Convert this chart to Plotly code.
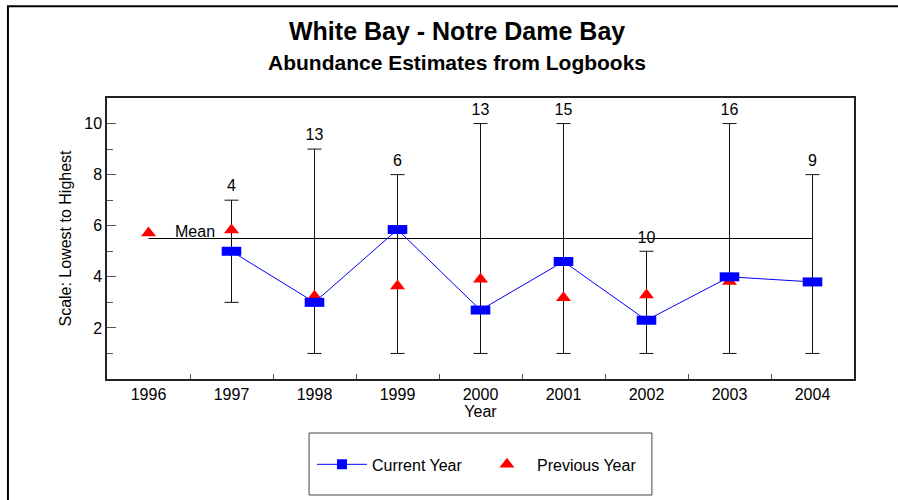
import plotly.graph_objects as go

# Survey years and estimates
years = [1996, 1997, 1998, 1999, 2000, 2001, 2002, 2003, 2004]
cur_years = [1997, 1998, 1999, 2000, 2001, 2002, 2003, 2004]
current = [5.0, 3.0, 5.85, 2.7, 4.6, 2.3, 4.0, 3.8]
prev_years = [1996, 1997, 1998, 1999, 2000, 2001, 2002, 2003]
previous = [5.72, 5.83, 3.24, 3.64, 3.9, 3.18, 3.29, 3.82]
# Range of individual logbook scores and number of logbooks per year
low = [3, 1, 1, 1, 1, 1, 1, 1]
high = [7, 9, 8, 10, 10, 5, 10, 8]
n_books = [4, 13, 6, 13, 15, 10, 16, 9]
mean_value = 5.5

FONT = "Arial, Liberation Sans, sans-serif"
BLUE = "#0000ff"
RED = "#ff0000"

fig = go.Figure()

# long-term mean
fig.add_trace(go.Scatter(
    x=[years[0], years[-1]], y=[mean_value, mean_value],
    mode="lines", line=dict(color="black", width=1),
    showlegend=False, hoverinfo="skip",
))

# lowest-to-highest range with the logbook count above it
# (transparent markers only serve to lift the labels off the caps)
fig.add_trace(go.Scatter(
    x=cur_years, y=high, mode="markers+text",
    text=[str(v) for v in n_books], textposition="top center",
    marker=dict(size=6, color="rgba(0,0,0,0)"),
    textfont=dict(family=FONT, size=16, color="black"),
    error_y=dict(type="data", symmetric=False,
                 array=[0] * len(high),
                 arrayminus=[h - l for h, l in zip(high, low)],
                 color="#111111", thickness=1, width=7),
    showlegend=False, hoverinfo="skip",
))

fig.add_trace(go.Scatter(
    x=prev_years, y=previous, mode="markers", name="Previous Year",
    marker=dict(symbol="triangle-up", size=13, color=RED, line=dict(width=0)),
))

# current-year estimates drawn as flat rectangles
fig.add_trace(go.Scatter(
    x=cur_years, y=current, mode="lines+markers", name="Current Year",
    line=dict(color=BLUE, width=1),
    marker=dict(symbol="line-ew", size=14, line=dict(color=BLUE, width=9)),
    showlegend=False,
))
# legend entry for the current-year series
fig.add_trace(go.Scatter(
    x=[None], y=[None], mode="lines+markers", name="Current Year",
    line=dict(color=BLUE, width=1),
    marker=dict(symbol="square", size=10, color=BLUE),
))

fig.add_annotation(
    x=1996.29, y=mean_value, xref="x", yref="y", text="Mean",
    showarrow=False, xanchor="left", yanchor="middle", yshift=7,
    font=dict(family=FONT, size=16, color="black"),
)

# two-line heading
fig.add_annotation(
    x=0.4685, y=1.2384, xref="paper", yref="paper",
    text="<b>White Bay - Notre Dame Bay</b>", showarrow=False,
    xanchor="center", yanchor="middle",
    font=dict(family=FONT, size=25, color="black"),
)
fig.add_annotation(
    x=0.4685, y=1.1246, xref="paper", yref="paper",
    text="<b>Abundance Estimates from Logbooks</b>", showarrow=False,
    xanchor="center", yanchor="middle",
    font=dict(family=FONT, size=21, color="black"),
)

# outer frame (left and top edges) and legend box
fig.add_shape(type="rect", xref="paper", yref="paper",
              x0=-0.1326, x1=1.3, y0=-0.6, y1=1.3267,
              line=dict(color="black", width=2))
fig.add_shape(type="rect", xref="paper", yref="paper",
              x0=0.2705, x1=0.7295, y0=-0.4128, y1=-0.1922,
              line=dict(color="#444444", width=1))

fig.update_layout(
    width=898, height=500,
    margin=dict(l=107, r=44, t=98, b=121),
    paper_bgcolor="white", plot_bgcolor="white",
    font=dict(family=FONT, size=16, color="black"),
    showlegend=True,
    legend=dict(
        orientation="h", x=0.2744, y=-0.304, xanchor="left", yanchor="middle",
        bgcolor="rgba(0,0,0,0)", borderwidth=0, itemwidth=50,
        entrywidth=100,
        font=dict(family=FONT, size=16, color="black"),
        traceorder="reversed",
    ),
    xaxis=dict(
        range=[1995.5, 2004.5], tickmode="array", tickvals=years,
        ticktext=[str(y) for y in years], ticks="",
        minor=dict(tickvals=[y + 0.5 for y in years[:-1]], ticks="inside",
                   ticklen=5, tickcolor="#555555", showgrid=False),
        showline=True, mirror=True, linecolor="#222222", linewidth=1.5,
        showgrid=False, zeroline=False,
        tickfont=dict(family=FONT, size=16),
        title=dict(text="Year", standoff=2, font=dict(family=FONT, size=16)),
    ),
    yaxis=dict(
        range=[0, 11], tickmode="array", tickvals=[2, 4, 6, 8, 10],
        ticks="inside", ticklen=9, tickcolor="#555555",
        minor=dict(tickvals=[1, 3, 5, 7, 9], ticks="inside", ticklen=6,
                   tickcolor="#555555", showgrid=False),
        showline=True, mirror=True, linecolor="#222222", linewidth=1.5,
        showgrid=False, zeroline=False,
        tickfont=dict(family=FONT, size=16),
        title=dict(text="Scale: Lowest to Highest", standoff=9,
                   font=dict(family=FONT, size=16)),
    ),
)

fig.write_html("out.html")
